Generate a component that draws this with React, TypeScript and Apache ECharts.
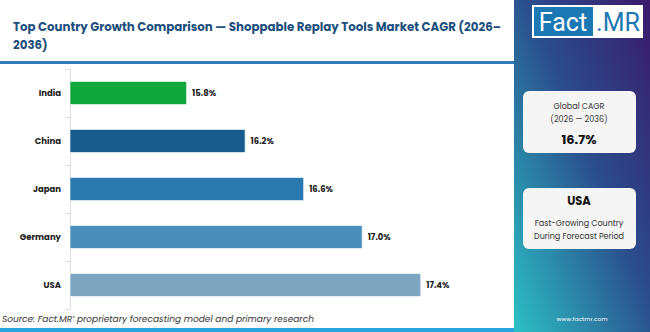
import React, { useEffect, useRef } from "react";
import * as echarts from "echarts";

const categories = ["India", "China", "Japan", "Germany", "USA"];
const cagrValues = [15.8, 16.2, 16.6, 17.0, 17.4];
const barColors = ["#10a83e", "#175c8c", "#2a78ad", "#4a8ebb", "#7ea6c1"];
const titleText = "Top Country Growth Comparison — Shoppable Replay Tools Market CAGR (2026–\n2036)";
const globalCagrLabel = ["Global CAGR", "(2026 — 2036)"];
const globalCagrValue = "16.7%";
const fastestCountry = "USA";
const fastestNote = ["Fast-Growing Country", "During Forecast Period"];
const sourceText = "Source: Fact.MR’ proprietary forecasting model and primary research";

export default function App() {
  const ref = useRef<HTMLDivElement>(null);
  useEffect(() => {
    document.body.style.margin = "0";
    const chart = echarts.init(ref.current!, null, { renderer: "svg" });
    const font = "Poppins, Inter, 'Noto Sans', sans-serif";
    chart.setOption({
      animation: false,
      backgroundColor: "#ffffff",
      title: {
        text: titleText,
        left: 8,
        top: 13,
        textStyle: { fontFamily: font, fontSize: 11.8, fontWeight: 700, color: "#1d4f7c", lineHeight: 18 },
      },
      grid: { left: 70, top: 69, width: 439, height: 240 },
      xAxis: { type: "value", min: 15, max: 18, show: false },
      yAxis: {
        type: "category",
        data: categories,
        inverse: true,
        axisLine: { show: true, lineStyle: { color: "#dddddd", width: 1 } },
        axisTick: { show: true, length: 5, lineStyle: { color: "#dddddd" } },
        axisLabel: { fontFamily: font, fontSize: 8.5, fontWeight: 700, color: "#222222", margin: 9 },
      },
      series: [
        {
          type: "bar",
          data: cagrValues.map((v, i) => ({
            value: v,
            itemStyle: { color: barColors[i], borderColor: "rgba(255,255,255,0.6)", borderWidth: 1 },
          })),
          barWidth: 24,
          label: {
            show: true,
            position: "right",
            distance: 5,
            formatter: (p: any) => p.value.toFixed(1) + "%",
            fontFamily: font,
            fontSize: 8.5,
            fontWeight: 700,
            color: "#222222",
          },
        },
      ],
      graphic: [
        { type: "rect", shape: { x: 0, y: 61, width: 514, height: 3 }, style: { fill: "#2e7bb6" } },
        { type: "rect", shape: { x: 0, y: 328, width: 514, height: 4 }, style: { fill: "#27a4dc" } },
        {
          type: "text",
          x: 2,
          y: 319,
          style: { text: sourceText, fontFamily: font, fontSize: 9, fontStyle: "italic", fill: "#333333", verticalAlign: "middle" },
        },
        {
          type: "rect",
          shape: { x: 514, y: 0, width: 136, height: 332 },
          style: {
            fill: new echarts.graphic.LinearGradient(1, 0, 0, 1, [
              { offset: 0, color: "#3a1a6a" },
              { offset: 0.45, color: "#2b4c8c" },
              { offset: 1, color: "#2cc0c4" },
            ]),
          },
        },
        { type: "rect", shape: { x: 532, y: 5, width: 111, height: 33 }, style: { fill: "#ffffff" } },
        { type: "rect", shape: { x: 534, y: 7, width: 59, height: 29 }, style: { fill: "#1b78b2" } },
        {
          type: "text",
          x: 563,
          y: 22,
          style: { text: "Fact", fontFamily: "Roboto, sans-serif", fontSize: 25, fill: "#ffffff", align: "center", verticalAlign: "middle" },
        },
        {
          type: "text",
          x: 618,
          y: 22,
          style: { text: ".MR", fontFamily: "Roboto, sans-serif", fontSize: 25, fill: "#1b78b2", align: "center", verticalAlign: "middle" },
        },
        { type: "rect", shape: { x: 523, y: 91, width: 113, height: 62, r: 6 }, style: { fill: "#f5f5f5" } },
        {
          type: "text",
          x: 579,
          y: 106,
          style: { text: globalCagrLabel[0], fontFamily: font, fontSize: 8, fill: "#333333", align: "center", verticalAlign: "middle" },
        },
        {
          type: "text",
          x: 579,
          y: 119,
          style: { text: globalCagrLabel[1], fontFamily: font, fontSize: 8, fill: "#333333", align: "center", verticalAlign: "middle" },
        },
        {
          type: "text",
          x: 579,
          y: 139,
          style: { text: globalCagrValue, fontFamily: font, fontSize: 13, fontWeight: 700, fill: "#111111", align: "center", verticalAlign: "middle" },
        },
        { type: "rect", shape: { x: 523, y: 188, width: 113, height: 61, r: 6 }, style: { fill: "#f5f5f5" } },
        {
          type: "text",
          x: 579,
          y: 201,
          style: { text: fastestCountry, fontFamily: font, fontSize: 11.5, fontWeight: 700, fill: "#111111", align: "center", verticalAlign: "middle" },
        },
        {
          type: "text",
          x: 579,
          y: 223,
          style: { text: fastestNote[0], fontFamily: font, fontSize: 8, fill: "#333333", align: "center", verticalAlign: "middle" },
        },
        {
          type: "text",
          x: 579,
          y: 236,
          style: { text: fastestNote[1], fontFamily: font, fontSize: 8, fill: "#333333", align: "center", verticalAlign: "middle" },
        },
        {
          type: "text",
          x: 582,
          y: 319,
          style: { text: "www.factmr.com", fontFamily: font, fontSize: 6, fill: "#ffffff", align: "center", verticalAlign: "middle" },
        },
      ],
    });
    return () => chart.dispose();
  }, []);
  return <div ref={ref} style={{ width: 650, height: 332 }} />;
}
